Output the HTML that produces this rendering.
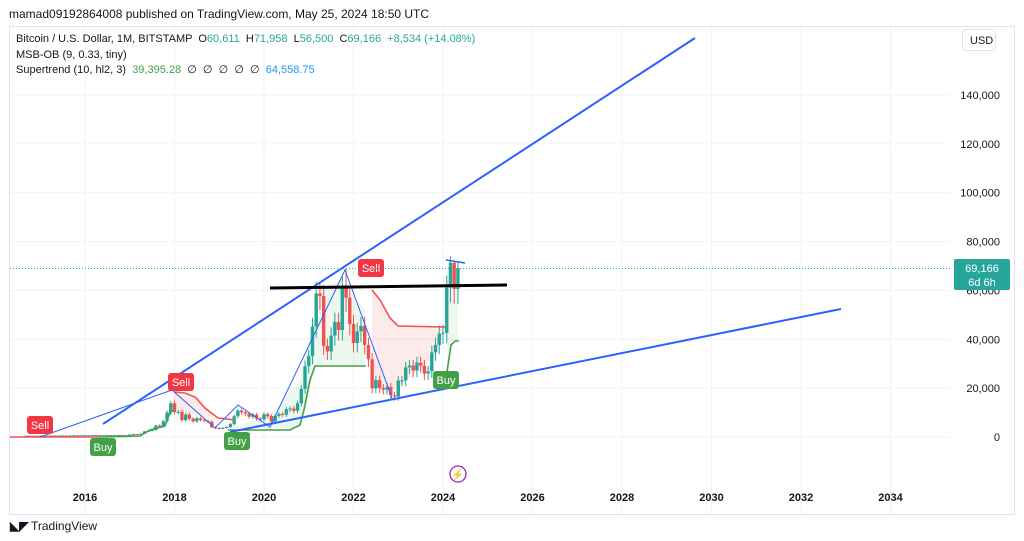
<!DOCTYPE html>
<html><head><meta charset="utf-8"><style>
body{margin:0;background:#fff;font-family:"Liberation Sans",sans-serif;}
svg{display:block}
</style></head><body>
<svg id="s" width="1024" height="541" xmlns="http://www.w3.org/2000/svg" font-family="Liberation Sans, sans-serif">
<rect width="1024" height="541" fill="#fff"/>
<text x="9" y="18" font-size="12" fill="#131722">mamad09192864008 published on TradingView.com, May 25, 2024 18:50 UTC</text>
<rect x="9.5" y="26.5" width="1005" height="488" fill="none" stroke="#e0e3eb"/>
<g id="grid" stroke="#f0f3fa" stroke-width="1"></g>
<g id="fills"></g>
<g id="cand"></g>
<g id="st" fill="none" stroke-width="1.6"></g>
<g id="draw"></g>
<line x1="10" y1="268.5" x2="950" y2="268.5" stroke="#26a69a" stroke-dasharray="1,2"/>
<g id="labels" font-size="11" fill="#131722"></g>
<text x="16" y="42" font-size="11" fill="#131722" xml:space="preserve">Bitcoin / U.S. Dollar, 1M, BITSTAMP  O<tspan fill="#26a69a">60,611</tspan>  H<tspan fill="#26a69a">71,958</tspan>  L<tspan fill="#26a69a">56,500</tspan>  C<tspan fill="#26a69a">69,166  +8,534 (+14.08%)</tspan></text>
<text x="16" y="58" font-size="11" fill="#131722">MSB-OB (9, 0.33, tiny)</text>
<text x="16" y="73" font-size="11" fill="#131722" xml:space="preserve">Supertrend (10, hl2, 3)  <tspan fill="#43a047">39,395.28</tspan>  ∅  ∅  ∅  ∅  ∅  <tspan fill="#2196f3">64,558.75</tspan></text>
<rect x="962.5" y="29.5" width="33" height="21" rx="4" fill="#fff" stroke="#e0e3eb"/>
<text x="970" y="44" font-size="11" fill="#131722">USD</text>
<rect x="954" y="259" width="56" height="31" fill="#26a69a" rx="2"/>
<text x="982" y="272" font-size="11" fill="#fff" text-anchor="middle">69,166</text>
<text x="982" y="286" font-size="11" fill="#fff" text-anchor="middle">6d 6h</text>
<circle cx="458" cy="474" r="8" fill="none" stroke="#9c27b0" stroke-width="1.3"/>
<text x="458" y="478" font-size="10" fill="#9c27b0" text-anchor="middle">⚡</text>
<text x="10" y="530" font-size="12" font-weight="bold" fill="#131722">◣◤</text>
<text x="31" y="530" font-size="12" fill="#131722">TradingView</text>
</svg>
<script>
const NS="http://www.w3.org/2000/svg";
function el(p,t,a){const e=document.createElementNS(NS,t);for(const k in a)e.setAttribute(k,a[k]);document.getElementById(p).appendChild(e);return e;}
const Y=p=>437-p*0.002443, X=t=>85+(t-2016)*44.75;
[0,20000,40000,60000,80000,100000,120000,140000].forEach(v=>{const y=Y(v);el('grid','line',{x1:10,x2:950,y1:y,y2:y});
 el('labels','text',{x:1000,y:y+4,'text-anchor':'end'}).textContent=v?v.toLocaleString('en-US'):'0';});
for(let yr=2016;yr<=2034;yr+=2){const x=X(yr);el('grid','line',{x1:x,x2:x,y1:27,y2:514});
 const t=el('labels','text',{x:x,y:501,'text-anchor':'middle','font-weight':'bold'});t.textContent=yr;}
let c=[];for(let i=0;i<29;i++)c.push(400+i*12+(i%3)*60);
c=c.concat([970,1190,1080,1350,2300,2500,2870,4700,4340,6450,10000,13800,10200,10300,6900,9200,7500,6400,7700,7000,6600,6300,4000,3700,3400,3800,4100,5300,8500,10800,10100,9600,8300,9150,7550,7200,9350,8550,6400,8600,9450,9150,11350,11650,10780,13800,19700,29000,33100,45200,58800,57700,37300,35000,41500,47100,43800,61300,57000,46200,38500,43200,45500,37700,31800,19900,23300,20050,19400,20500,17150,16550,23100,23150,28500,29250,27200,30450,29200,25950,26950,34650,37700,42300,42600,61200,71300,60600,69166]);
const t0=2024+4/12-(c.length-1)/12;
for(let i=1;i<c.length;i++){const o=c[i-1],cl=c[i],x=X(t0+i/12);let hi=Math.max(o,cl)*1.08,lo=Math.min(o,cl)*0.9;
 if(i==c.length-3)hi=73800; if(i==c.length-2)hi=72000; if(i==c.length-1)hi=71958;if(c[i]==57000)hi=69000;
 const col=cl>=o?'#26a69a':'#ef5350';
 el('cand','line',{x1:x,x2:x,y1:Y(hi),y2:Y(lo),stroke:col,'stroke-width':1});
 const y1=Y(Math.max(o,cl)),y2=Y(Math.min(o,cl));el('cand','rect',{x:x-1.7,y:y1,width:3.4,height:Math.max(1,y2-y1),fill:col});}
el('fills','polygon',{points:"175,390 200,398 215,420 172,410",fill:"rgba(239,83,80,0.12)"});
el('fills','polygon',{points:"230,428 300,428 315,366 365,366 365,310 340,280 320,290 300,380 270,415",fill:"rgba(76,175,80,0.10)"});
el('fills','polygon',{points:"372,290 390,320 398,325 445,327 440,350 420,370 400,385 385,395 372,380",fill:"rgba(239,83,80,0.12)"});
el('fills','polygon',{points:"447,372 452,341 458,341 458,270 447,270",fill:"rgba(76,175,80,0.10)"});
el('st','polyline',{points:"10,437 100,437",stroke:"#ef5350"});
el('st','polyline',{points:"100,437 140,436 150,430 165,426 170,412 175,410",stroke:"#43a047"});
el('st','polyline',{points:"175,392 185,393 195,397 205,408 218,418 235,420",stroke:"#ef5350"});
el('st','polyline',{points:"228,430 290,430 300,425 304,410 310,380 315,366 366,366",stroke:"#43a047"});
el('st','polyline',{points:"372,290 380,300 390,318 398,326 445,327",stroke:"#ef5350"});
el('st','polyline',{points:"447,372 451,345 455,341 459,341",stroke:"#43a047"});
el('draw','line',{x1:103,y1:424,x2:695,y2:38,stroke:"#2962ff","stroke-width":2});
el('draw','line',{x1:230,y1:432,x2:841,y2:309,stroke:"#2962ff","stroke-width":2});
el('draw','polyline',{points:"40,437 172,390 215,428 238,405 270,427 345,270 392,398",fill:"none",stroke:"#2962ff","stroke-width":1});
el('draw','line',{x1:270,y1:288,x2:507,y2:285,stroke:"#000","stroke-width":3});
el('draw','line',{x1:446,y1:260,x2:465,y2:263,stroke:"#2962ff","stroke-width":1.5});
function lab(x,y,txt,col){el('draw','rect',{x:x-13,y:y-9,width:26,height:18,rx:3,fill:col});
 const t=el('draw','text',{x:x,y:y+4,'text-anchor':'middle','font-size':11,fill:'#fff'});t.textContent=txt;}
lab(40,425,'Sell','#f23645');lab(181,382,'Sell','#f23645');lab(371,268,'Sell','#f23645');
lab(103,447,'Buy','#43a047');lab(237,441,'Buy','#43a047');lab(446,380,'Buy','#43a047');
</script>
</body></html>
